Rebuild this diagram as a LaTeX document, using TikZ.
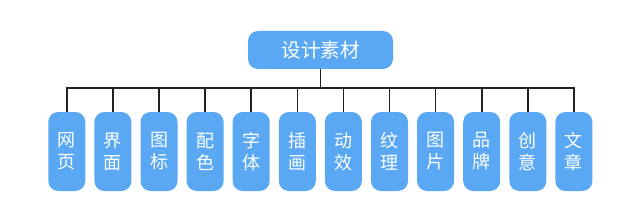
\documentclass[tikz,border=0pt]{standalone}
\usepackage{fontspec}
\newfontfamily\cjk{Noto Sans CJK SC}
\definecolor{boxblue}{HTML}{5AA8F4}
\definecolor{linec}{HTML}{222222}
\tikzset{
  topbox/.style={fill=boxblue, rounded corners=10pt, minimum width=145pt, minimum height=38pt, inner sep=0pt, text=white, font=\cjk\fontsize{19.5}{19.5}\selectfont},
  leafbox/.style={fill=boxblue, rounded corners=10pt, minimum width=37pt, minimum height=79pt, inner sep=0pt, text=white, align=center, font=\cjk\fontsize{18}{22}\selectfont},
  conn/.style={draw=linec, line width=1.6pt}
}
\begin{document}
\begin{tikzpicture}[x=1pt,y=-1pt]
\useasboundingbox (0,0) rectangle (640,222);
\node[topbox] (root) at (320.5,50) {设计素材};
\coordinate (hub) at (320.5,88);
\foreach \i/\t in {0/{网\\页},1/{界\\面},2/{图\\标},3/{配\\色},4/{字\\体},5/{插\\画},6/{动\\效},7/{纹\\理},8/{图\\片},9/{品\\牌},10/{创\\意},11/{文\\章}}{
  \node[leafbox] (c\i) at ({66.8+46.1*\i},151.5) {\t};
  \coordinate (t\i) at ({66.8+46.1*\i},88);
  \draw[conn] (t\i) -- (c\i.north);
}
\draw[conn, line cap=rect] (t0) -- (t11);
\draw[conn] (root.south) -- (hub);
\end{tikzpicture}
\end{document}
